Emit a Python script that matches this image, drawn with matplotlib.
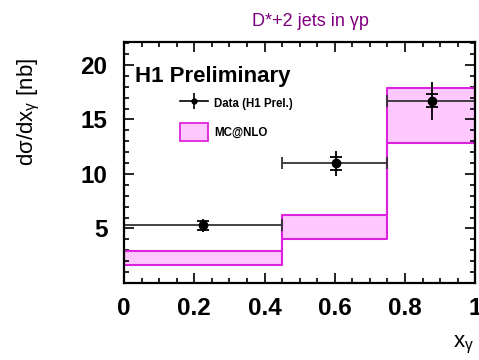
import numpy as np
import matplotlib
matplotlib.use('Agg')
import matplotlib.pyplot as plt
from matplotlib.patches import Patch
from matplotlib.lines import Line2D
from matplotlib.ticker import MultipleLocator

plt.rcParams['font.family'] = ['Liberation Sans', 'DejaVu Sans']

# bins in x_gamma
bin_edges = [0.0, 0.45, 0.75, 1.0]
# MC@NLO band
mc_low = [1.62, 4.05, 12.8]
mc_high = [2.94, 6.2, 17.86]
# data (H1 prel.)
data_x = [0.226, 0.603, 0.878]
data_y = [5.28, 10.97, 16.72]
data_stat = [0.45, 0.6, 0.6]
data_tot = [0.6, 1.18, 1.75]

x_ticks = [0, 0.2, 0.4, 0.6, 0.8, 1.0]
x_tick_labels = ['0', '0.2', '0.4', '0.6', '0.8', '1']
y_ticks = [5, 10, 15, 20]

fill_col = '#ffc8ff'
edge_col = '#dd22dd'

fig = plt.figure(figsize=(4.79, 3.6), dpi=100)
ax = fig.add_axes([0.259, 0.214, 0.733, 0.669])

# MC band
edges = np.array(bin_edges)
lo = np.append(mc_low, mc_low[-1])
hi = np.append(mc_high, mc_high[-1])
ax.fill_between(edges, lo, hi, step='post', color=fill_col, lw=0)
ax.step(edges, lo, where='post', color=edge_col, lw=1.5)
ax.step(edges, hi, where='post', color=edge_col, lw=1.5)

# data
x = np.array(data_x)
xlo = x - edges[:-1]
xhi = edges[1:] - x
ax.errorbar(x, data_y, xerr=[xlo, xhi], fmt='none', ecolor='#333333',
            elinewidth=1.3, capsize=4, capthick=1.3)
ax.errorbar(x, data_y, yerr=data_tot, fmt='none', ecolor='black',
            elinewidth=1.3, capsize=0)
ax.errorbar(x, data_y, yerr=data_stat, fmt='o', color='black', ms=6,
            elinewidth=0, capsize=4.5, capthick=1.3)

ax.set_xlim(0, 1)
ax.set_ylim(0, 22.1)
ax.set_xticks(x_ticks)
ax.set_xticklabels(x_tick_labels)
ax.set_yticks(y_ticks)
ax.xaxis.set_minor_locator(MultipleLocator(0.05))
ax.yaxis.set_minor_locator(MultipleLocator(1))
ax.tick_params(which='both', direction='in', top=True, right=True, width=1.2)
ax.tick_params(which='major', length=7, labelsize=17.5)
ax.tick_params(axis='y', which='major', pad=12)
ax.tick_params(axis='x', which='major', pad=10)
ax.tick_params(which='minor', length=3.5)
for lab in ax.get_xticklabels() + ax.get_yticklabels():
    lab.set_fontweight('bold')
for sp in ax.spines.values():
    sp.set_linewidth(1.6)

ax.set_ylabel(r'd$\mathregular{σ}$/dx$\mathregular{_γ}$ [nb]', fontsize=16)
ax.yaxis.set_label_coords(-0.235, 0.71)

ax.text(0.031, 0.858, 'H1 Preliminary', transform=ax.transAxes,
        fontsize=16, fontweight='bold', va='center', ha='left')

fig.text(310 / 479, 1 - 22 / 360, 'D*+2 jets in γp', color='#800080',
         fontsize=13, ha='center', va='center')
fig.text(474 / 479, 1 - 345 / 360, r'x$\mathregular{_γ}$', fontsize=16,
         ha='right', va='center')

# legend
data_handle = (Line2D([], [], color='black', marker='o', ms=3.5, lw=1.2),
               Line2D([], [], color='black', marker='|', ms=11, ls='', mew=1.2))
mc_handle = Patch(facecolor=fill_col, edgecolor=edge_col, lw=1.3)
ax.legend([data_handle, mc_handle], ['Data (H1 Prel.)', 'MC@NLO'],
          loc='upper left', bbox_to_anchor=(0.145, 0.80), borderaxespad=0,
          frameon=False, prop={'weight': 'bold', 'size': 8.3},
          handlelength=2.5, handleheight=1.95, labelspacing=0.95,
          handletextpad=0.5)

fig.savefig('out.png', dpi=100)
